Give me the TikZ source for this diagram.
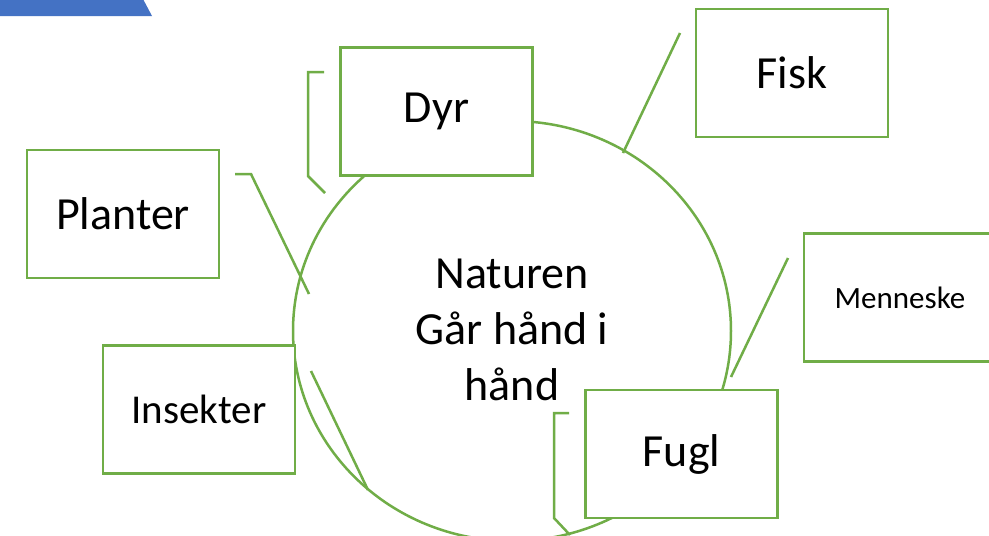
\documentclass[tikz,border=0pt]{standalone}
\usepackage{fontspec}
\setmainfont{Carlito}
\usetikzlibrary{shapes.geometric}
\definecolor{sagreen}{HTML}{70AD47}
\definecolor{sablue}{HTML}{4472C4}
\tikzset{
  box/.style={draw=sagreen, line width=2.5pt, fill=white, minimum width=192pt, minimum height=128pt, inner sep=0pt, font=\fontsize{46}{56}\selectfont},
  conn/.style={draw=sagreen, line width=2.5pt},
}
\begin{document}
\begin{tikzpicture}[x=1pt,y=-1pt]
\clip (0,0) rectangle (989,536);
\fill[white] (0,0) rectangle (989,536);
% blue corner shape
\fill[sablue] (0,-1) -- (143,-1) -- (152,16) -- (0,16) -- cycle;
% central ellipse
\node[draw=sagreen, line width=2.5pt, ellipse, minimum width=438pt, minimum height=420pt, inner sep=0pt] (hub) at (512,331) {};
\node[align=center, font=\fontsize{46}{56}\selectfont] (hubtext) at (512,330) {Naturen\\Går hånd i\\hånd};
% connector end points
\coordinate (p1) at (235,174);
\coordinate (p2) at (251,174);
\coordinate (p3) at (309,294);
\coordinate (d1) at (324,72);
\coordinate (d2) at (308,72);
\coordinate (d3) at (308,176);
\coordinate (d4) at (325,193);
\coordinate (f1) at (680,33);
\coordinate (f2) at (623,153);
\coordinate (m1) at (788,258);
\coordinate (m2) at (731,377);
\coordinate (i1) at (311,371);
\coordinate (i2) at (368,490);
\coordinate (g1) at (569,413);
\coordinate (g2) at (554,413);
\coordinate (g3) at (554,518);
\coordinate (g4) at (570,535);
\draw[conn] (p1) -- (p2) -- (p3);
\draw[conn] (d1) -- (d2) -- (d3) -- (d4);
\draw[conn] (f1) -- (f2);
\draw[conn] (m1) -- (m2);
\draw[conn] (i1) -- (i2);
\draw[conn] (g1) -- (g2) -- (g3) -- (g4);
% boxes
\node[box] (dyr) at (436.5,111.5) {Dyr};
\node[box] (fisk) at (792,73) {Fisk};
\node[box] (planter) at (123,214) {Planter};
\node[box, font=\fontsize{41}{50}\selectfont] (insekter) at (199,409.5) {Insekter};
\node[box, font=\fontsize{31}{38}\selectfont] (menneske) at (900,297.5) {Menneske};
\node[box] (fugl) at (681.5,454) {Fugl};
\end{tikzpicture}
\end{document}
